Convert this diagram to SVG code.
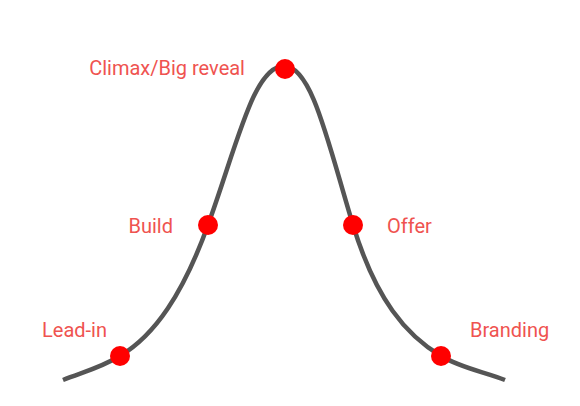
<svg xmlns="http://www.w3.org/2000/svg" width="580" height="406" viewBox="0 0 580 406">
<style>
.lbl{font-family:Roboto,"Liberation Sans",sans-serif;font-size:20px;fill:#ef5350}
.dot{fill:#ff0000}
.curve{fill:none;stroke:#555555;stroke-width:4.5}
</style>
<rect width="580" height="406" fill="#ffffff"/>
<g id="connectors">
<path class="curve" d="M63,380 C83,372 100,368 120,356 C155,335 183,294 208,225 C238,142 254,66 284,66 C312,66 328,143 353,225 C376,300 406,335 441,356 C461,368 485,372 505,380"/>
</g>
<g id="lead-in"><circle class="dot" cx="120" cy="356" r="10"/><text class="lbl" x="42" y="337">Lead-in</text></g>
<g id="build"><circle class="dot" cx="208" cy="225" r="10"/><text class="lbl" x="173" y="233" text-anchor="end">Build</text></g>
<g id="climax"><circle class="dot" cx="285" cy="69" r="10"/><text class="lbl" x="245" y="75" text-anchor="end">Climax/Big reveal</text></g>
<g id="offer"><circle class="dot" cx="353" cy="225" r="10"/><text class="lbl" x="387" y="233">Offer</text></g>
<g id="branding"><circle class="dot" cx="441" cy="356" r="10"/><text class="lbl" x="470" y="337">Branding</text></g>
</svg>
